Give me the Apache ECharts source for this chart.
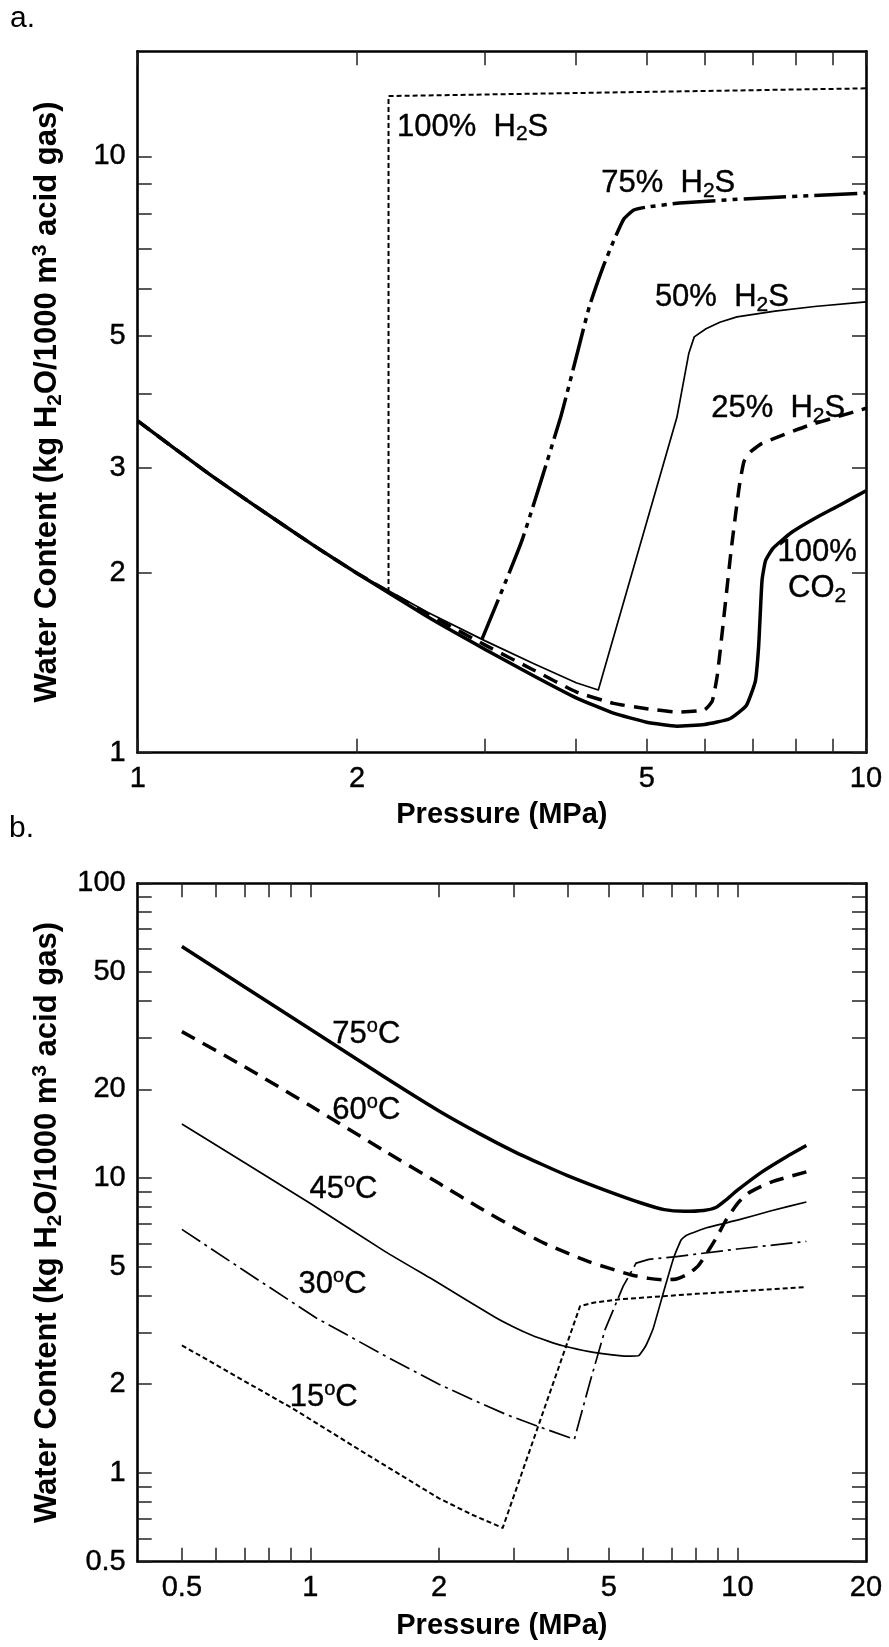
<!DOCTYPE html>
<html><head><meta charset="utf-8">
<script src="https://cdn.jsdelivr.net/npm/echarts@6/dist/echarts.min.js"></script>
<style>html,body{margin:0;padding:0;background:#fff}#c{width:889px;height:1647px}</style>
</head><body><div id="c"></div>
<script>
// ---------- Panel a: water content vs pressure for acid gas mixtures ----------
const aPressureCO2 = [1.0, 1.25, 1.5, 1.75, 2.0, 2.5, 3.0, 3.5, 4.0, 4.5, 5.0, 5.5, 6.0, 6.5, 6.85, 7.05, 7.12, 7.16, 7.2, 7.28, 7.45, 7.9, 8.5, 9.2, 10.0];
const aWaterCO2    = [3.6, 2.94, 2.52, 2.22, 2.0, 1.69, 1.49, 1.345, 1.236, 1.165, 1.125, 1.108, 1.115, 1.14, 1.2, 1.32, 1.5, 1.72, 1.95, 2.1, 2.2, 2.34, 2.47, 2.6, 2.75];
const aPressure25  = [1.0, 1.25, 1.5, 1.75, 2.0, 2.5, 3.0, 3.5, 4.0, 4.5, 5.0, 5.5, 6.0, 6.15, 6.25, 6.35, 6.53, 6.7, 6.8, 6.95, 7.2, 8.3, 10.0];
const aWater25     = [3.6, 2.94, 2.52, 2.22, 2.0, 1.71, 1.515, 1.375, 1.265, 1.21, 1.185, 1.17, 1.18, 1.22, 1.35, 1.6, 2.19, 2.8, 3.08, 3.2, 3.3, 3.53, 3.78];
const aPressure50  = [1.0, 1.25, 1.5, 1.75, 2.0, 2.5, 3.0, 3.5, 4.0, 4.29, 5.5, 5.71, 5.81, 6.03, 6.3, 6.65, 7.5, 8.5, 10.0];
const aWater50     = [3.6, 2.94, 2.52, 2.22, 2.0, 1.72, 1.54, 1.41, 1.31, 1.274, 3.65, 4.67, 4.98, 5.14, 5.27, 5.38, 5.5, 5.6, 5.7];
const aPressure75  = [2.97, 3.37, 3.81, 4.0, 4.17, 4.35, 4.5, 4.65, 4.8, 5.0, 5.55, 7.0, 10.0];
const aWater75     = [1.55, 2.27, 3.66, 4.6, 5.6, 6.5, 7.2, 7.85, 8.13, 8.22, 8.35, 8.5, 8.68];
const aPressure100 = [2.21, 2.21, 10.0];
const aWater100    = [1.86, 12.62, 13.0];

const aLabelText     = ['100%  H{s|2}S', '75%  H{s|2}S', '50%  H{s|2}S', '25%  H{s|2}S', '100%\nCO{s|2}'];
const aLabelPressure = [2.27, 4.33, 5.13, 6.13, 8.57];
const aLabelWater    = [11.2, 9.0, 5.8, 3.78, 2.02];

const aXTicks  = [1, 2, 3, 4, 5, 6, 7, 8, 9, 10];
const aXLabels = [1, 2, 5, 10];
const aYTicks  = [1, 2, 3, 4, 5, 6, 7, 8, 9, 10];
const aYLabels = [1, 2, 3, 5, 10];

// ---------- Panel b: water content vs pressure at various temperatures ----------
const bPressure75 = [0.5, 0.7, 1.0, 1.5, 2.0, 2.5, 3.0, 3.5, 4.0, 5.0, 6.0, 6.74, 7.5, 8.33, 8.9, 9.4, 10.0, 11.44, 13.0, 14.5];
const bWater75    = [61, 44.6, 32.0, 21.9, 16.9, 14.1, 12.3, 11.1, 10.2, 9.0, 8.2, 7.82, 7.72, 7.77, 7.95, 8.43, 9.1, 10.52, 11.8, 12.9];
const bPressure60 = [0.5, 0.7, 1.0, 1.5, 2.0, 2.5, 3.0, 3.5, 3.9, 4.5, 5.0, 5.62, 6.2, 6.74, 7.2, 7.7, 8.1, 8.6, 9.0, 9.4, 10.0, 10.6, 12.0, 14.5];
const bWater60    = [31.4, 23.9, 17.6, 12.3, 9.6, 7.9, 6.8, 6.05, 5.65, 5.2, 4.95, 4.7, 4.57, 4.52, 4.55, 4.75, 5.05, 5.75, 6.41, 7.2, 8.2, 8.89, 9.7, 10.5];
const bPressure45 = [0.5, 0.7, 1.0, 1.5, 2.0, 2.7, 3.0, 3.3, 3.6, 3.9, 4.5, 5.29, 5.6, 5.87, 6.1, 6.34, 6.74, 7.1, 7.38, 7.6, 8.5, 10.0, 12.0, 14.5];
const bWater45    = [15.26, 11.3, 8.2, 5.62, 4.4, 3.38, 3.12, 2.93, 2.8, 2.7, 2.58, 2.5, 2.49, 2.5, 2.7, 3.07, 4.19, 5.4, 6.17, 6.4, 6.8, 7.2, 7.75, 8.3];
const bPressure30 = [0.5, 0.7, 1.03, 1.5, 2.0, 2.4, 2.9, 3.5, 4.15, 4.5, 4.9, 5.4, 5.79, 6.2, 7.2, 10.0, 14.5];
const bWater30    = [6.7, 4.85, 3.36, 2.49, 2.0, 1.77, 1.57, 1.42, 1.30, 2.0, 3.07, 4.3, 5.15, 5.3, 5.42, 5.75, 6.1];
const bPressure15 = [0.5, 0.7, 0.912, 1.35, 2.0, 2.4, 2.82, 4.28, 4.6, 5.29, 8.0, 14.5];
const bWater15    = [2.71, 2.05, 1.65, 1.16, 0.82, 0.72, 0.651, 3.68, 3.78, 3.88, 4.05, 4.27];

const bLabelText     = ['75{p|o}C', '60{p|o}C', '45{p|o}C', '30{p|o}C', '15{p|o}C'];
const bLabelPressure = [1.125, 1.125, 0.995, 0.938, 0.894];
const bLabelWater    = [30.6, 16.9, 9.12, 4.37, 1.80];

const bXTicks  = [0.5, 0.6, 0.7, 0.8, 0.9, 1, 2, 3, 4, 5, 6, 7, 8, 9, 10];
const bXLabels = [0.5, 1, 2, 5, 10, 20];
const bYTicks  = [0.5, 0.6, 0.7, 0.8, 0.9, 1, 2, 3, 4, 5, 6, 7, 8, 9, 10, 20, 30, 40, 50, 60, 70, 80, 90, 100];
const bYLabels = [0.5, 1, 2, 5, 10, 20, 50, 100];

// ---------- helpers ----------
const FONT = 'Liberation Sans, Arial, sans-serif';
const zip = (xs, ys) => xs.map((x, i) => [x, ys[i]]);

const titleRich = {
  s: { fontSize: 21, fontWeight: 'bold', fontFamily: FONT, verticalAlign: 'bottom', lineHeight: 21, color: '#000' },
  p: { fontSize: 21, fontWeight: 'bold', fontFamily: FONT, verticalAlign: 'top', lineHeight: 21, color: '#000' }
};
const yTitle = 'Water Content (kg H{s|2}O/1000 m{p|3} acid gas)';

function axis(grid, pos, min, max, ticks, labels, extra) {
  const a = {
    type: 'log', logBase: 10, gridIndex: grid, position: pos, min: min, max: max,
    splitLine: { show: false },
    axisLine: { show: true, onZero: false, lineStyle: { color: '#000', width: 2.6 } },
    axisTick: { show: true, inside: true, length: 14, customValues: ticks, lineStyle: { color: '#222', width: 1.5 } },
    axisLabel: labels ? {
      show: true, customValues: labels, fontSize: 29, color: '#000', fontFamily: FONT, margin: 12,
      textBorderColor: '#000', textBorderWidth: 0.4
    } : { show: false },
    minorTick: { show: false }
  };
  return Object.assign(a, extra || {});
}

function lineSeries(xi, yi, data, width, type, smooth) {
  return {
    type: 'line', xAxisIndex: xi, yAxisIndex: yi, data: data,
    showSymbol: false, symbol: 'none', smooth: smooth || false, silent: true, clip: true,
    lineStyle: { color: '#000', width: width, type: type, cap: 'butt', join: 'round' },
    z: 3
  };
}

// text annotations placed at data coordinates through the axes' scales
function labelSeries(xi, yi, xs, ys, texts, rich, centerIdx) {
  return {
    type: 'custom', xAxisIndex: xi, yAxisIndex: yi, silent: true, clip: false,
    data: zip(xs, ys),
    renderItem: function (params, api) {
      const i = params.dataIndex;
      const pt = api.coord([api.value(0), api.value(1)]);
      return {
        type: 'text', x: pt[0], y: pt[1], z2: 10,
        style: {
          text: texts[i], fill: '#000', fontSize: 31, fontFamily: FONT, lineHeight: 36,
          align: i === centerIdx ? 'center' : 'left', verticalAlign: 'middle',
          stroke: '#000', lineWidth: 0.4, rich: rich
        }
      };
    },
    z: 5
  };
}

const labelRichA = {
  s: { fontSize: 21, fontFamily: FONT, fill: '#000', stroke: '#000', lineWidth: 0.4, verticalAlign: 'bottom', lineHeight: 21 }
};
const labelRichB = {
  p: { fontSize: 20, fontFamily: FONT, fill: '#000', stroke: '#000', lineWidth: 0.4, verticalAlign: 'top', lineHeight: 20 }
};

const xTitleStyle = { fontSize: 29, fontWeight: 'bold', color: '#000', fontFamily: FONT };
const yTitleStyle = { fontSize: 31, fontWeight: 'bold', color: '#000', fontFamily: FONT, lineHeight: 36, rich: titleRich };

const option = {
  animation: false,
  backgroundColor: '#fff',
  textStyle: { fontFamily: FONT },
  grid: [
    { left: 137.7, right: 23, top: 51.3, height: 701.4, containLabel: false, outerBoundsMode: 'none' },
    { left: 137.7, right: 23, top: 883.3, height: 678.4, containLabel: false, outerBoundsMode: 'none' }
  ],
  graphic: [
    { type: 'text', left: 10, top: 4, style: { text: 'a.', font: '30px ' + FONT, fill: '#000' } },
    { type: 'text', left: 9, top: 814, style: { text: 'b.', font: '30px ' + FONT, fill: '#000' } }
  ],
  xAxis: [
    axis(0, 'bottom', 1, 10, aXTicks, aXLabels, { name: 'Pressure (MPa)', nameLocation: 'middle', nameGap: 48, nameTextStyle: xTitleStyle }),
    axis(0, 'top', 1, 10, aXTicks, null),
    axis(1, 'bottom', 0.394, 20, bXTicks, bXLabels, { name: 'Pressure (MPa)', nameLocation: 'middle', nameGap: 50, nameTextStyle: xTitleStyle }),
    axis(1, 'top', 0.394, 20, bXTicks, null)
  ],
  yAxis: [
    axis(0, 'left', 1, 15, aYTicks, aYLabels, { name: yTitle, nameLocation: 'middle', nameGap: 72, nameTextStyle: yTitleStyle }),
    axis(0, 'right', 1, 15, aYTicks, null),
    axis(1, 'left', 0.5, 100, bYTicks, bYLabels, { name: yTitle, nameLocation: 'middle', nameGap: 72, nameTextStyle: yTitleStyle }),
    axis(1, 'right', 0.5, 100, bYTicks, null)
  ],
  series: [
    lineSeries(0, 0, zip(aPressure100, aWater100), 2, [5, 3]),
    lineSeries(0, 0, zip(aPressure75, aWater75), 3.5, [43, 6, 5, 6, 5, 6], 0.15),
    lineSeries(0, 0, zip(aPressure50, aWater50), 1.7, 'solid'),
    lineSeries(0, 0, zip(aPressure25, aWater25), 3.5, [15, 9], 0.15),
    lineSeries(0, 0, zip(aPressureCO2, aWaterCO2), 3.5, 'solid', 0.15),
    labelSeries(0, 0, aLabelPressure, aLabelWater, aLabelText, labelRichA, 4),

    lineSeries(2, 2, zip(bPressure75, bWater75), 3.5, 'solid', 0.2),
    lineSeries(2, 2, zip(bPressure60, bWater60), 3.5, [15, 9], 0.2),
    lineSeries(2, 2, zip(bPressure45, bWater45), 1.7, 'solid', 0.12),
    lineSeries(2, 2, zip(bPressure30, bWater30), 1.7, [22, 5, 3, 5]),
    lineSeries(2, 2, zip(bPressure15, bWater15), 2, [5, 3]),
    labelSeries(2, 2, bLabelPressure, bLabelWater, bLabelText, labelRichB, -1)
  ]
};

const chart = echarts.init(document.getElementById('c'), null, { renderer: 'canvas' });
chart.setOption(option);
</script>
</body></html>
